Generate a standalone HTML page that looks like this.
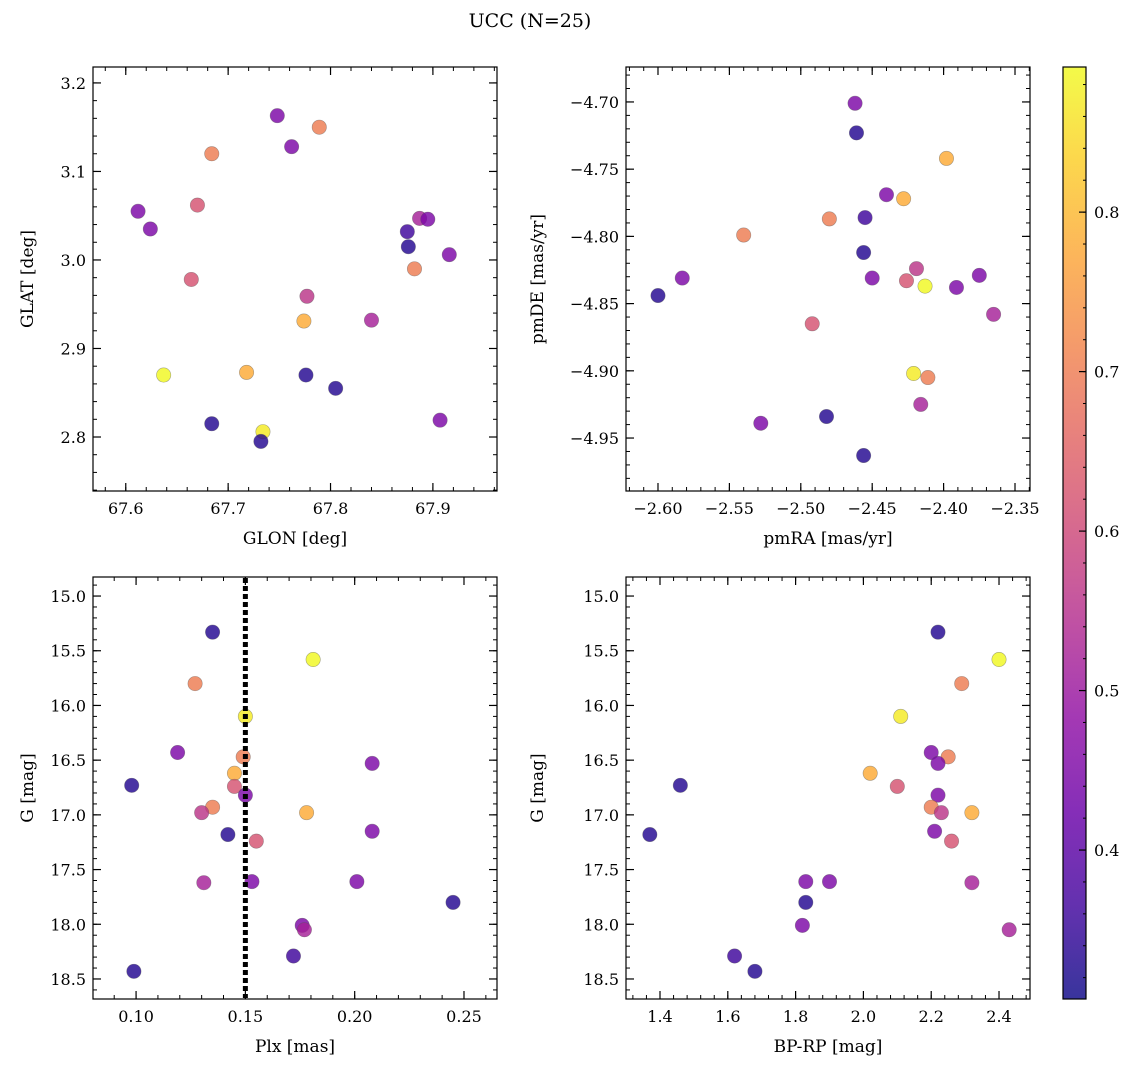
<!DOCTYPE html>
<html><head><meta charset="utf-8">
<style>
html,body{margin:0;padding:0;background:#fff;}
svg{display:block;font-family:"DejaVu Serif","Liberation Serif",serif;}
</style></head>
<body>
<svg id="fig" width="1136" height="1067" xmlns="http://www.w3.org/2000/svg">
<text x="530" y="27" font-size="19" text-anchor="middle">UCC (N=25)</text>
</svg>
<script>
// ---- data (one entry per star) ----
const colorVal = [0.33,0.89,0.70,0.87,0.45,0.70,0.45,0.78,0.33,0.62,0.45,0.70,0.56,0.78,0.45,0.33,0.62,0.45,0.45,0.52,0.33,0.45,0.52,0.36,0.33];
const plx  = [0.135,0.181,0.127,0.150,0.119,0.149,0.208,0.145,0.098,0.145,0.150,0.135,0.130,0.178,0.208,0.142,0.155,0.201,0.153,0.131,0.245,0.176,0.177,0.172,0.099];
const gmag = [15.33,15.58,15.80,16.10,16.43,16.47,16.53,16.62,16.73,16.74,16.82,16.93,16.98,16.98,17.15,17.18,17.24,17.61,17.61,17.62,17.80,18.01,18.05,18.29,18.43];
const bprp = [2.22,2.40,2.29,2.11,2.20,2.25,2.22,2.02,1.46,2.10,2.22,2.20,2.23,2.32,2.21,1.37,2.26,1.83,1.90,2.32,1.83,1.82,2.43,1.62,1.68];
const glon = [67.684,67.637,67.684,67.734,67.612,67.789,67.624,67.718,67.732,67.664,67.748,67.882,67.777,67.774,67.762,67.776,67.670,67.916,67.907,67.887,67.805,67.895,67.840,67.875,67.876];
const glat = [2.815,2.870,3.120,2.806,3.055,3.150,3.035,2.873,2.795,2.978,3.163,2.990,2.959,2.931,3.128,2.870,3.062,3.006,2.819,3.047,2.855,3.046,2.932,3.032,3.015];
const pmra = [-2.600,-2.413,-2.540,-2.421,-2.583,-2.480,-2.528,-2.428,-2.482,-2.492,-2.462,-2.411,-2.419,-2.398,-2.450,-2.461,-2.426,-2.440,-2.391,-2.416,-2.456,-2.375,-2.365,-2.455,-2.456];
const pmde = [-4.844,-4.837,-4.799,-4.902,-4.831,-4.787,-4.939,-4.772,-4.934,-4.865,-4.701,-4.905,-4.824,-4.742,-4.831,-4.723,-4.833,-4.769,-4.838,-4.925,-4.963,-4.829,-4.858,-4.786,-4.812];
const vmin = 0.3066, vmax = 0.891;
const cbTicks = [0.4,0.5,0.6,0.7,0.8];

const NS="http://www.w3.org/2000/svg";
const svg=document.getElementById('fig');
function el(tag,attrs,parent){const e=document.createElementNS(NS,tag);for(const k in attrs)e.setAttribute(k,attrs[k]);(parent||svg).appendChild(e);return e;}
const stops=[[13,8,135],[65,4,157],[106,0,168],[143,13,164],[177,42,144],[204,71,120],[225,100,98],[242,132,75],[252,166,54],[252,206,37],[240,249,33]];
function plasma(t){t=Math.max(0,Math.min(1,t));const f=t*10,i=Math.min(9,Math.floor(f)),r=f-i;const a=stops[i],b=stops[i+1];
 return 'rgb('+[0,1,2].map(k=>Math.round(a[k]+(b[k]-a[k])*r)).join(',')+')';}
function cmap(v){return plasma((v-vmin)/(vmax-vmin));}

function fmt(v,d){let s=v.toFixed(d);return s.replace('-','\u2212');}

function panel(name,box,xr,yr,xt,yt,xminor,yminor,xd,yd,xs,ys,xlabel,ylabel,invertY){
 const [L,T,R,B]=box;
 const g=el('g',{});
 
 
 const X=v=>L+(v-xr[0])/(xr[1]-xr[0])*(R-L);
 const Y=invertY? (v=>T+(v-yr[0])/(yr[1]-yr[0])*(B-T)) : (v=>B-(v-yr[0])/(yr[1]-yr[0])*(B-T));
 // minor ticks
 for(let v=Math.ceil(xr[0]/xminor-1e-6)*xminor; v<=xr[1]+1e-9; v+=xminor){const x=X(v);
  el('line',{x1:x,x2:x,y1:B,y2:B-4,stroke:'#000','stroke-width':1},g);el('line',{x1:x,x2:x,y1:T,y2:T+4,stroke:'#000','stroke-width':1},g);}
 for(let v=Math.ceil(yr[0]/yminor-1e-6)*yminor; v<=yr[1]+1e-9; v+=yminor){const y=Y(v);
  el('line',{x1:L,x2:L+4,y1:y,y2:y,stroke:'#000','stroke-width':1},g);el('line',{x1:R,x2:R-4,y1:y,y2:y,stroke:'#000','stroke-width':1},g);}
 xt.forEach(v=>{const x=X(v);
  el('line',{x1:x,x2:x,y1:B,y2:B-8,stroke:'#000','stroke-width':1.2},g);el('line',{x1:x,x2:x,y1:T,y2:T+8,stroke:'#000','stroke-width':1.2},g);
  const t=el('text',{x:x,y:B+23,'font-size':16,'text-anchor':'middle'},g);t.textContent=fmt(v,xd);
  
  });
 yt.forEach(v=>{const y=Y(v);
  el('line',{x1:L,x2:L+8,y1:y,y2:y,stroke:'#000','stroke-width':1.2},g);el('line',{x1:R,x2:R-8,y1:y,y2:y,stroke:'#000','stroke-width':1.2},g);
  const t=el('text',{x:L-7,y:y+6,'font-size':16,'text-anchor':'end'},g);t.textContent=fmt(v,yd);
  
  });
 // points
 for(let i=0;i<xs.length;i++){
  const c=el('circle',{cx:X(xs[i]),cy:Y(ys[i]),r:7.2,fill:cmap(colorVal[i]),'fill-opacity':0.82,stroke:'#555','stroke-opacity':0.5,'stroke-width':0.6},g);
  
  
 }
 el('rect',{x:L,y:T,width:R-L,height:B-T,fill:'none',stroke:'#000','stroke-width':1.2},g);
 const xl=el('text',{x:(L+R)/2,y:B+53,'font-size':17,'text-anchor':'middle'},g);xl.textContent=xlabel;
 
 
 const cx=(name==='pm-panel'||name==='cmd-panel')?L-83:L-60;
 const yl=el('text',{x:cx,y:(T+B)/2,'font-size':17,'text-anchor':'middle',transform:`rotate(-90 ${cx} ${(T+B)/2})`},g);yl.textContent=ylabel;
 
 
 return {X,Y,g};
}
const r3=(a,b)=>{const o=[];for(let v=a;v<=b+1e-9;v+=0)break;return o;};
panel('position-panel',[93,67,497,491],[67.568,67.9626],[2.739,3.218],[67.6,67.7,67.8,67.9],[2.8,2.9,3.0,3.1,3.2],0.02,0.02,1,1,glon,glat,'GLON [deg]','GLAT [deg]',false);
panel('pm-panel',[626,67,1030,491],[-2.6224,-2.3395],[-4.9894,-4.674],[-2.60,-2.55,-2.50,-2.45,-2.40,-2.35],[-4.95,-4.90,-4.85,-4.80,-4.75,-4.70],0.01,0.01,2,2,pmra,pmde,'pmRA [mas/yr]','pmDE [mas/yr]',false);
const p3=panel('plx-panel',[93,577,497,999],[0.0803,0.2651],[14.826,18.683],[0.10,0.15,0.20,0.25],[15.0,15.5,16.0,16.5,17.0,17.5,18.0,18.5],0.01,0.1,2,1,plx,gmag,'Plx [mas]','G [mag]',true);
const ln=el('line',{x1:p3.X(0.15),x2:p3.X(0.15),y1:578,y2:998,stroke:'#000','stroke-width':5,'stroke-dasharray':'5 3'},p3.g);


panel('cmd-panel',[626,577,1030,999],[1.2997,2.4914],[14.826,18.683],[1.4,1.6,1.8,2.0,2.2,2.4],[15.0,15.5,16.0,16.5,17.0,17.5,18.0,18.5],0.04,0.1,1,1,bprp,gmag,'BP-RP [mag]','G [mag]',true);

// colorbar
const cb=el('g',{});


const defs=el('defs',{},cb);
const lg=el('linearGradient',{id:'cbg',x1:0,y1:1,x2:0,y2:0},defs);
for(let k=0;k<=20;k++){el('stop',{offset:k/20,'stop-color':plasma(k/20),'stop-opacity':0.82},lg);}
const cbT=67,cbB=999,cbL=1063,cbR=1086;
el('rect',{x:cbL,y:cbT,width:cbR-cbL,height:cbB-cbT,fill:'url(#cbg)'},cb);
el('rect',{x:cbL,y:cbT,width:cbR-cbL,height:cbB-cbT,fill:'none',stroke:'#000','stroke-width':1.2},cb);
const CY=v=>cbB-(v-vmin)/(vmax-vmin)*(cbB-cbT);
for(let v=0.32;v<=vmax;v+=0.02){el('line',{x1:cbR,x2:cbR-3,y1:CY(v),y2:CY(v),stroke:'#000','stroke-width':1},cb);}
cbTicks.forEach(v=>{const y=CY(v);
 el('line',{x1:cbR,x2:cbR-7,y1:y,y2:y,stroke:'#000','stroke-width':1.2},cb);
 const t=el('text',{x:cbR+8,y:y+6,'font-size':16},cb);t.textContent=v.toFixed(1);
 
 });
</script>
</body></html>
